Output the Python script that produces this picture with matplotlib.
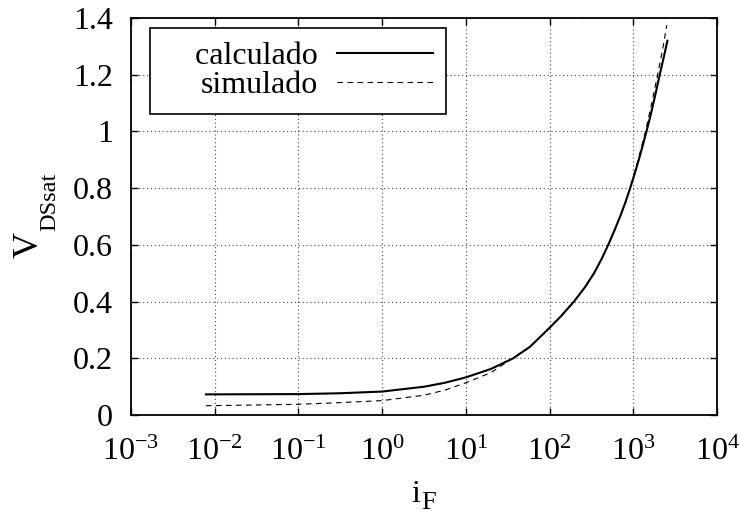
import numpy as np
import matplotlib
matplotlib.use('Agg')
import matplotlib.pyplot as plt
from matplotlib.ticker import FixedLocator, NullLocator, FuncFormatter

plt.rcParams['font.family'] = ['Liberation Serif', 'DejaVu Serif']
plt.rcParams['mathtext.fontset'] = 'custom'
plt.rcParams['mathtext.rm'] = 'Liberation Serif'
plt.rcParams['mathtext.it'] = 'Liberation Serif:italic'

# data (i_F, V_DSsat)
calc_if = [0.00787, 0.0989, 0.316, 1.0, 3.16, 5.62, 10.0, 20.0, 36.6, 58.3,
           100.0, 138.0, 195.0, 263.0, 339.0, 417.0, 501.0, 593.0, 695.0,
           804.0, 916.0, 1035.0, 1161.0, 1294.0, 1435.0, 1585.0, 1738.0,
           1897.0, 2065.0, 2301.0, 2553.0]
calc_v = [0.073, 0.074, 0.077, 0.083, 0.100, 0.114, 0.133, 0.163, 0.200, 0.241,
          0.308, 0.350, 0.400, 0.450, 0.500, 0.550, 0.600, 0.650, 0.700,
          0.750, 0.800, 0.850, 0.900, 0.950, 1.000, 1.050, 1.100,
          1.150, 1.200, 1.260, 1.320]

sim_if = [0.00787, 0.0989, 0.316, 1.0, 3.16, 5.62, 10.0, 20.0, 34.0, 58.3,
          100.0, 138.0, 195.0, 263.0, 339.0, 417.0, 501.0, 593.0, 695.0,
          804.0, 916.0, 1143.0, 1396.0, 1660.0, 1950.0, 2239.0, 2512.0]
sim_v = [0.033, 0.038, 0.044, 0.051, 0.070, 0.088, 0.114, 0.150, 0.195, 0.240,
         0.307, 0.350, 0.400, 0.450, 0.500, 0.550, 0.600, 0.650, 0.700,
         0.750, 0.800, 0.900, 1.000, 1.100, 1.200, 1.290, 1.375]

xticks = [1e-3, 1e-2, 1e-1, 1e0, 1e1, 1e2, 1e3, 1e4]
yticks = [0, 0.2, 0.4, 0.6, 0.8, 1.0, 1.2, 1.4]

fs = 23
W, H = 740, 515


def px(x, y):
    # pixel position -> figure fraction
    return x / W, 1 - y / H


fig = plt.figure(figsize=(7.4, 5.15), dpi=100)
ax = fig.add_subplot(111)
fig.subplots_adjust(left=0.177, right=0.969, top=0.965, bottom=0.194)

ax.plot(calc_if, calc_v, color='black', lw=1.5, label='    calculado')
ax.plot(sim_if, sim_v, color='black', lw=0.8, dashes=(5, 4), label='simulado')

ax.set_xscale('log')
ax.set_xlim(1e-3, 1e4)
ax.set_ylim(0, 1.4)
ax.xaxis.set_major_locator(FixedLocator(xticks))
ax.xaxis.set_minor_locator(NullLocator())
ax.yaxis.set_major_locator(FixedLocator(yticks))
ax.yaxis.set_major_formatter(FuncFormatter(lambda v, p: '%g' % v))

ax.grid(True, color='#444444', linestyle=(0, (1, 2.5)), lw=0.8)
ax.tick_params(direction='in', length=5, width=1.0, top=True, right=True,
               labelsize=fs)
ax.tick_params(axis='y', pad=13)
ax.tick_params(axis='x', pad=16)
for s in ax.spines.values():
    s.set_linewidth(1.3)

# axis labels with gnuplot-like subscripts
fig.text(*px(411, 502), 'i', fontsize=fs, ha='left', va='baseline')
fig.text(*px(421, 509), 'F', fontsize=19, ha='left', va='baseline')
fig.text(*px(38, 258), 'V', fontsize=26, rotation=90, rotation_mode='anchor',
         ha='left', va='baseline')
fig.text(*px(55, 231), 'DSsat', fontsize=17.5, rotation=90,
         rotation_mode='anchor', ha='left', va='baseline')

leg = ax.legend(loc='upper left', bbox_to_anchor=(0.032, 0.975), borderaxespad=0,
                markerfirst=False, fancybox=False, framealpha=1, fontsize=fs,
                handlelength=3.0, handletextpad=0.6, borderpad=0.42,
                labelspacing=0.0, edgecolor='black')
leg.get_frame().set_linewidth(1.2)

fig.savefig('out.png', dpi=100)
